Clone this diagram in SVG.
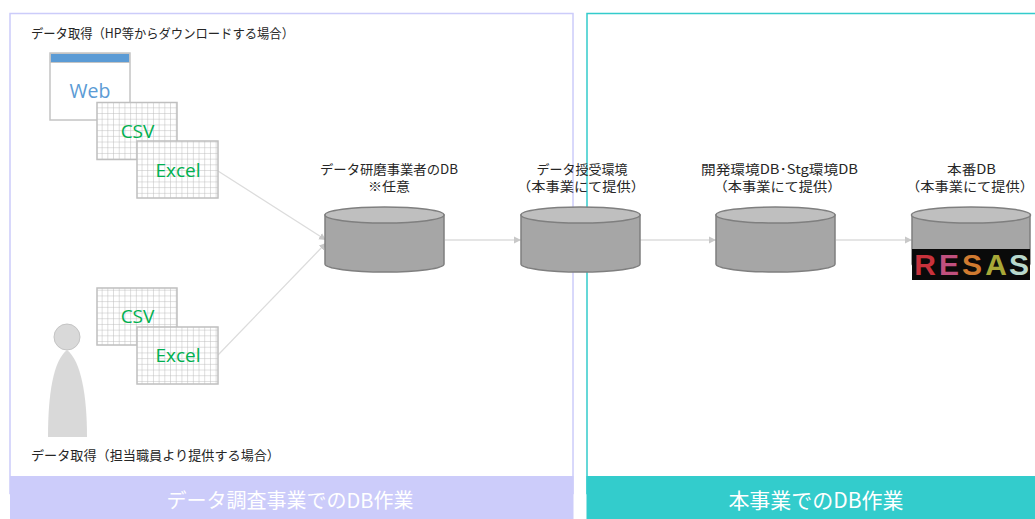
<svg xmlns="http://www.w3.org/2000/svg" width="1035" height="519" viewBox="0 0 1035 519">
<style>
text{font-family:"Noto Sans CJK JP","Noto Sans",sans-serif;}
.t{font-size:13px;fill:#262626;text-anchor:middle}
.l{font-size:13px;fill:#262626}
.g{font-size:19px;fill:#00b050;text-anchor:middle;font-family:"Open Sans","Noto Sans",sans-serif}
.band{font-size:20px;fill:#fff;text-anchor:middle}
.cyl{fill:#a6a6a6;stroke:#7f7f7f;stroke-width:1.5}
.top{fill:#bfbfbf;stroke:#7f7f7f;stroke-width:1.5}
.grid{fill:url(#gp);stroke:#bfbfbf;stroke-width:1.5}
.c{stroke:#dcdcdc;stroke-width:1.3;fill:none;marker-end:url(#ah)}
.r{font-size:30px;font-weight:700;font-family:"Liberation Sans",sans-serif;text-anchor:middle}
</style>
<defs>
<pattern id="gp" width="5.7" height="5.7" patternUnits="userSpaceOnUse">
<rect width="5.7" height="5.7" fill="#fff"/>
<path d="M5.7 0V5.7M0 5.7H5.7" stroke="#bdbdbd" stroke-width="1" fill="none"/>
</pattern>
<marker id="ah" markerWidth="8" markerHeight="8" refX="7" refY="4" orient="auto" markerUnits="userSpaceOnUse">
<path d="M0 0.5L7 4L0 7.5Z" fill="#c8c8c8"/>
</marker>
</defs>
<rect width="1035" height="519" fill="#fff"/>
<g id="panel-left">
<rect x="10" y="13.500" width="563" height="480" fill="#fff" stroke="#ccccfa" stroke-width="1.500"/>
<rect x="10" y="476" width="563.500" height="43" fill="#ccccfa"/>
<text class="band" x="290" y="508">データ調査事業でのDB作業</text>
</g>
<g id="panel-right">
<rect x="587" y="13.500" width="460" height="480" fill="none" stroke="#33cccc" stroke-width="1.500"/>
<rect x="586.500" y="476" width="449" height="43" fill="#33cccc"/>
<text class="band" x="816" y="508" style="font-size:21px">本事業でのDB作業</text>
</g>
<g id="connectors">
<path class="c" d="M218 171L326 240"/>
<path class="c" d="M218 355L326 243"/>
<path class="c" d="M445 240H521"/>
<path class="c" d="M640 240H716"/>
<path class="c" d="M836 240H912"/>
</g>
<g id="label-top"><text class="l" x="31" y="38" textLength="263" lengthAdjust="spacingAndGlyphs">データ取得（HP等からダウンロードする場合）</text></g>
<g id="label-bottom"><text class="l" x="31" y="460" textLength="249" lengthAdjust="spacingAndGlyphs">データ取得（担当職員より提供する場合）</text></g>
<g id="web">
<rect x="50" y="53" width="80" height="67" fill="#fff" stroke="#c4c4c4" stroke-width="1.500"/>
<rect x="50.500" y="53.500" width="79" height="9" fill="#5b9bd5" stroke="#c4c4c4"/>
<text x="90" y="98" font-size="19.500" fill="#5b9bd5" text-anchor="middle" style="font-family:'Open Sans',sans-serif">Web</text>
</g>
<g id="csv-1">
<rect class="grid" x="97" y="102.500" width="80" height="57"/>
<text class="g" x="137.500" y="138">CSV</text>
</g>
<g id="excel-1">
<rect class="grid" x="137" y="141" width="81" height="57"/>
<text class="g" x="178" y="177">Excel</text>
</g>
<g id="csv-2">
<rect class="grid" x="97" y="288" width="80" height="57"/>
<text class="g" x="137.500" y="323">CSV</text>
</g>
<g id="excel-2">
<rect class="grid" x="137" y="327" width="81" height="57"/>
<text class="g" x="178" y="362">Excel</text>
</g>
<g id="person">
<circle cx="67" cy="337" r="13" fill="#d9d9d9" stroke="#c4c4c4" stroke-width="1"/>
<path d="M48 437C48 395 53 361 67 350C81 361 87 395 87 437Z" fill="#d9d9d9"/>
</g>
<g id="db-1">
<text class="t" x="389" y="173.500" textLength="138" lengthAdjust="spacingAndGlyphs">データ研磨事業者のDB</text>
<text class="t" x="389" y="191" textLength="42" lengthAdjust="spacingAndGlyphs">※任意</text>
<path class="cyl" d="M325 215V264C325 268.500 352 272 385 272C418 272 444 268.500 444 264V215Z"/>
<ellipse class="top" cx="384.500" cy="215" rx="59.500" ry="8"/>
</g>
<g id="db-2">
<path class="cyl" d="M521 215V264C521 268.500 548 272 580.500 272C613 272 640 268.500 640 264V215Z"/>
<ellipse class="top" cx="580.500" cy="215" rx="59.500" ry="8"/>
<text class="t" x="582" y="173.500">データ授受環境</text>
<text class="t" x="581" y="191" textLength="128" lengthAdjust="spacingAndGlyphs">（本事業にて提供）</text>
</g>
<g id="db-3">
<text class="t" x="779.500" y="173.500" textLength="157" lengthAdjust="spacingAndGlyphs">開発環境DB･Stg環境DB</text>
<text class="t" x="777.500" y="191" textLength="128" lengthAdjust="spacingAndGlyphs">（本事業にて提供）</text>
<path class="cyl" d="M716 215V264C716 268.500 743 272 775.500 272C808 272 835 268.500 835 264V215Z"/>
<ellipse class="top" cx="775.500" cy="215" rx="59.500" ry="8"/>
</g>
<g id="db-4">
<text class="t" x="971.500" y="173.500" textLength="49" lengthAdjust="spacingAndGlyphs">本番DB</text>
<text class="t" x="970" y="191" textLength="128" lengthAdjust="spacingAndGlyphs">（本事業にて提供）</text>
<path class="cyl" d="M912 215V264C912 268.500 939 272 971 272C1003 272 1030 268.500 1030 264V215Z"/>
<ellipse class="top" cx="971" cy="215" rx="59.500" ry="8"/>
<rect x="912" y="249" width="118" height="31" fill="#0a0a0a"/>
<text class="r" x="925" y="275" fill="#c8323c">R</text>
<text class="r" x="949" y="275" fill="#c0507f">E</text>
<text class="r" x="972" y="275" fill="#d07a30">S</text>
<text class="r" x="996" y="275" fill="#a8a838">A</text>
<text class="r" x="1019" y="275" fill="#b8d8cc">S</text>
</g>
</svg>
